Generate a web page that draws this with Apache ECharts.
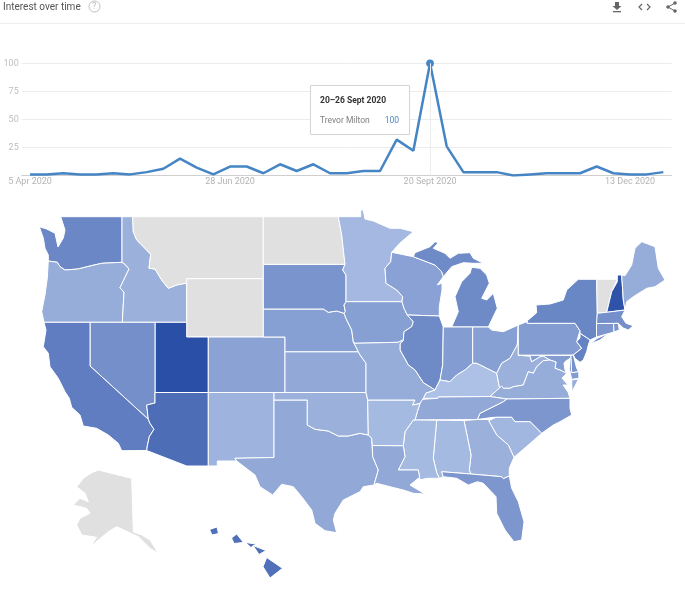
<!DOCTYPE html>
<html>
<head>
<meta charset="utf-8">
<title>Interest over time</title>
<style>
  html, body { margin: 0; padding: 0; background: #fff; }
  #chart { width: 685px; height: 606px; }
</style>
<script src="https://cdn.jsdelivr.net/npm/echarts@6/dist/echarts.min.js"></script>
</head>
<body>
<div id="chart"></div>
<script>
// Weekly interest
var weeks = [
  '5 Apr 2020', '12 Apr 2020', '19 Apr 2020', '26 Apr 2020', '3 May 2020', '10 May 2020', '17 May 2020',
  '24 May 2020', '31 May 2020', '7 Jun 2020', '14 Jun 2020', '21 Jun 2020', '28 Jun 2020', '5 Jul 2020',
  '12 Jul 2020', '19 Jul 2020', '26 Jul 2020', '2 Aug 2020', '9 Aug 2020', '16 Aug 2020', '23 Aug 2020',
  '30 Aug 2020', '6 Sept 2020', '13 Sept 2020', '20 Sept 2020', '27 Sept 2020', '4 Oct 2020', '11 Oct 2020',
  '18 Oct 2020', '25 Oct 2020', '1 Nov 2020', '8 Nov 2020', '15 Nov 2020', '22 Nov 2020', '29 Nov 2020',
  '6 Dec 2020', '13 Dec 2020', '20 Dec 2020', '27 Dec 2020'
];
var interest = [
  1, 1, 2, 1, 1, 2, 1, 3, 6, 15, 7, 1, 8, 8, 2, 10, 4, 10, 2, 2,
  4, 4, 32, 22, 100, 26, 3, 3, 3, 0, 1, 2, 2, 2, 8, 2, 1, 1, 3
];
var peakIndex = 24;
var seriesName = 'Trevor Milton';

// Interest by state. MT, WY, ND, VT and AK have no data.
var stateNames = [
  'UT', 'NH', 'AZ', 'HI', 'CA', 'WA', 'NV', 'IL', 'NY', 'NJ', 'MI', 'SD', 'NC', 'FL', 'PA', 'IN', 'MD', 'DE',
  'CT', 'RI', 'MA', 'OH', 'WI', 'IA', 'NE', 'CO', 'TX', 'KS', 'LA', 'TN', 'MO', 'OR', 'VA', 'ME', 'OK', 'ID',
  'GA', 'WV', 'NM', 'SC', 'MN', 'AR', 'MS', 'AL', 'KY'
];
var stateValues = [
  100, 97, 77, 75, 65, 57, 51, 55, 58, 61, 55, 47, 45, 45, 41, 41, 41, 48,
  45, 45, 51, 38, 37, 38, 38, 36, 31, 31, 31, 31, 28, 28, 28, 28, 25, 25,
  25, 25, 23, 20, 19, 18, 18, 18, 13
];

// State outlines, in the picture's own projection
var stateShapes = {
  WA: [[[60.7,216.7],[122,216.7],[122,262.3],[101.7,263.3],[90,266],[78,269],[65,270],[60,266.7],[57.3,262.3],[48.3,261],[48.3,255],[45,248.3],[43.3,238],[39.3,226.7],[46.7,229],[55,233.3],[58,247],[63.3,238],[65,230]]],
  OR: [[[48.3,261],[57.3,262.3],[60,266.7],[65,270],[78,269],[90,266],[101.7,263.3],[122,262.3],[125,264.3],[129,269],[120,287.7],[124,292.3],[122.3,322.3],[44,322.3],[41.7,311.7],[45,295],[47.3,278]]],
  ID: [[[122,216.7],[132.7,216.7],[133.3,231.7],[136.7,240],[145,248.3],[150.7,254.3],[149,268.3],[155,269],[161.7,280],[168.3,288.3],[176.7,285],[185,283.3],[186.7,284.3],[186.7,322.3],[122.3,322.3],[124,292.3],[120,287.7],[129,269],[125,264.3],[122,262.3]]],
  MT: [[[132.7,216.7],[263.3,216.7],[263.3,278.7],[186.7,278.7],[186.7,284.3],[185,283.3],[176.7,285],[168.3,288.3],[161.7,280],[155,269],[149,268.3],[150.7,254.3],[145,248.3],[136.7,240],[133.3,231.7]]],
  WY: [[[186.7,278.7],[263.3,278.7],[263.3,337],[186.7,337]]],
  UT: [[[155,322.3],[186.7,322.3],[186.7,337],[208.3,337],[208.3,392.5],[155,392.5]]],
  NV: [[[90,322.3],[155,322.3],[155,403],[146.7,405],[148.3,419.3],[90,366]]],
  CA: [[[44,322.3],[90,322.3],[90,366],[148.3,419.3],[150,423.3],[154,429.3],[149.3,436.7],[147.3,446],[146.7,450.5],[121.7,450.7],[118.3,443.3],[108.3,435],[96.7,428.3],[83.3,426],[80,415],[71.7,407.3],[69.3,398.3],[65,391.7],[58.3,378.3],[50,366.7],[48.3,353.3],[43.3,346.7],[46,330]]],
  AZ: [[[155,392.5],[208.3,392.5],[208.3,466],[186.7,466],[146.7,450.5],[147.3,446],[149.3,436.7],[154,429.3],[150,423.3],[148.3,419.3],[146.7,405],[155,403]]],
  CO: [[[208.3,337],[285,337],[285,392.5],[208.3,392.5]]],
  NM: [[[208.3,392.5],[274,392.5],[274,457.5],[235,458.3],[236.7,461],[217.3,461],[217.3,466],[208.3,466]]],
  TX: [[[274,400],[307.3,400],[307.3,425],[315,429.3],[328.3,431],[338.3,436],[348.3,436],[360,433.3],[368.3,435],[371.7,438.3],[372.7,456.7],[378.3,470],[374,485],[363.3,486.7],[360,491.7],[343.3,500],[335,513.3],[333.3,520],[336.7,532.7],[325,530.7],[315,523.3],[311.7,510],[301.7,496.7],[293.3,486.7],[281.7,484.3],[272.7,495],[260,486.7],[255,475],[236.7,461],[235,458.3],[274,457.5]]],
  OK: [[[274,392.5],[366,392.5],[367.7,400],[368.3,435],[360,433.3],[348.3,436],[338.3,436],[328.3,431],[315,429.3],[307.3,425],[307.3,400],[274,400]]],
  KS: [[[285,351.7],[358.3,351.7],[360,355],[366,363.3],[366,392.5],[285,392.5]]],
  NE: [[[263.3,309],[323.3,309],[328.3,312.3],[336.7,311],[344,313.3],[346.7,320],[351.7,330],[353.3,341.7],[358.3,351.7],[285,351.7],[285,337],[263.3,337]]],
  SD: [[[263.3,264.3],[345,264.3],[342.7,270],[346,275],[346,301.7],[344,305],[345.3,311.7],[344,313.3],[336.7,311],[328.3,312.3],[323.3,309],[263.3,309]]],
  ND: [[[263.3,216.7],[338.3,216.7],[341.7,235],[345,264.3],[263.3,264.3]]],
  MN: [[[338.3,216.7],[360.7,216.7],[360.7,210],[363.3,210],[365,219],[373.3,221],[390,228.3],[400,228.3],[413.3,231.7],[400,243],[391.7,252.3],[390.7,261.7],[385,268.3],[386,283.3],[396.7,290],[402.7,296.7],[402,301.7],[346,301.7],[346,275],[342.7,270],[345,264.3],[341.7,235]]],
  IA: [[[346,301.7],[402,301.7],[404,308.3],[407.3,315],[413.3,321.7],[411.7,326.7],[404,331.7],[403.3,340],[398.3,342.3],[355,343.3],[353.3,341.7],[351.7,330],[346.7,320],[344,313.3],[345.3,311.7],[344,305]]],
  WI: [[[391.7,252.3],[413.3,256.7],[435,265],[441.7,271.7],[443.3,276.7],[437.3,285],[442,283],[442,290],[439.3,306.7],[439.3,316],[407.3,315],[404,308.3],[402,301.7],[402.7,296.7],[396.7,290],[386,283.3],[385,268.3],[390.7,261.7]]],
  MI: [
    [[413.3,256.7],[415,252.7],[430,246.7],[435,241.7],[438.3,242.7],[433.3,248.3],[445,253.3],[450,258.3],[458.3,253.3],[470,252.7],[473.3,258.3],[483.3,263.3],[473.3,263.3],[463.3,262.7],[451.7,266.7],[443.3,276.7],[441.7,271.7],[435,265]],
    [[471.7,267.3],[480,268.3],[486.7,275],[489.3,283.3],[481.7,298.3],[486.7,300],[493.3,293.3],[497.3,308.3],[488.3,327],[451.7,327],[458.3,311.7],[455,296.7],[461.7,281.7],[470,273.3]]
  ],
  IL: [[[407.3,315],[439.3,316],[443.3,327],[442.7,365],[440,380],[435,390],[423.3,382.7],[415,370],[408.3,365],[400,350],[400,344],[403.3,340],[404,331.7],[411.7,326.7],[413.3,321.7]]],
  IN: [[[443.3,327],[472.7,327],[472.7,363.3],[465,370],[456.7,375],[450,381.7],[440,380],[442.7,365]]],
  OH: [[[472.7,327],[488.3,327],[491.7,330],[503.3,331.7],[518.3,325],[517.3,345],[510,358.3],[501.7,363.3],[496.7,373.3],[486.7,368.3],[476.7,363.3],[472.7,363.3]]],
  KY: [[[435,390],[440,380],[450,381.7],[456.7,375],[465,370],[472.7,363.3],[476.7,363.3],[486.7,368.3],[496.7,373.3],[499.3,386.7],[503.3,388.3],[501.7,386],[490,396.5],[438.3,397],[437.7,398.3],[423.3,398.3],[426,393]]],
  WV: [[[518.3,325],[518.3,355.3],[530,356],[531.7,361.7],[540,356.7],[543.3,356],[550,360],[543.3,360.7],[536.7,366.7],[533.3,373.3],[528.3,371.7],[523.3,385],[513.3,386.7],[510,388.3],[503.3,388.3],[499.3,386.7],[496.7,373.3],[501.7,363.3],[510,358.3],[517.3,345]]],
  PA: [[[518.3,325],[526.7,321.7],[527.3,323.3],[575,323.3],[580,330.7],[576.7,341.7],[581.7,348.3],[573.3,355],[518.3,355.3]]],
  NY: [
    [[527.3,323.3],[527.3,320.7],[536.7,312.7],[536,305],[550,304],[563.3,300],[566.7,290],[578.3,279.3],[596.7,279.3],[597.3,313.3],[596.5,337],[590,340],[580,333.3],[580,330.7],[575,323.3]],
    [[590,344],[597,338.5],[609,333],[600,340]]
  ],
  VT: [[[596.7,279.3],[617.3,279.3],[611.7,291.7],[606.7,312.3],[597.3,313.3]]],
  NH: [[[617.3,275],[621.7,275],[623.3,300],[625,310],[606.7,312.3],[611.7,291.7],[617.3,281.7]]],
  ME: [[[621.7,275],[625,275.7],[631.7,265],[635,248.3],[641.7,241.7],[655,246.7],[658.3,268.3],[665,280],[655,286.7],[646.7,288.3],[633.3,296.7],[626.7,301.7],[625,310],[623.3,300]]],
  MA: [[[597.3,313.3],[606.7,312.3],[625,310],[621.7,316.7],[626,323.3],[633.3,325.7],[628.3,330],[623.3,328],[618.3,323.3],[596.5,323.5]]],
  CT: [[[596.5,323.5],[613.5,323.5],[614,332],[596.5,337]]],
  RI: [[[613.5,323.5],[618.3,323.3],[619.3,330],[614,332]]],
  NJ: [[[580,333.3],[590,340],[588.3,345],[586.7,351.7],[583.3,360],[580,362.3],[575,358.3],[573.3,355],[581.7,348.3],[576.7,341.7],[580,338]]],
  DE: [[[570.7,355.5],[573.3,355],[576.7,368.3],[578.7,371.7],[571.7,372.7]]],
  MD: [[[530,356],[518.3,355.3],[570.7,355.5],[571.7,372.7],[578.7,371.7],[579,378.3],[571.7,379.3],[569.3,368.3],[570,358.3],[565,361.7],[564,363.3],[565,370],[566.7,373.3],[560,370],[555,368.3],[556,362],[550,360],[543.3,356],[540,356.7],[531.7,361.7]]],
  VA: [
    [[490,396.5],[501.7,386],[503.3,388.3],[510,388.3],[513.3,386.7],[523.3,385],[528.3,371.7],[533.3,373.3],[536.7,366.7],[543.3,360.7],[550,360],[556,362],[555,368.3],[560,370],[566.7,373.3],[562,378],[568,385],[563,385],[568,392],[570,398.3],[506.7,399]],
    [[571.7,380],[578.5,379],[572,392]]
  ],
  NC: [[[506.7,399],[570,398.3],[570,408.3],[571.7,415],[560,421.7],[553.3,425],[541.7,433.3],[530,421.7],[515,421.7],[511.7,417.3],[493.3,417.3],[477.3,419.5],[480,413.3],[490,408.3],[503.3,401.7]]],
  TN: [[[422.3,399.3],[423.3,398.3],[437.7,398.3],[438.3,397],[490,396.5],[506.7,399],[503.3,401.7],[490,408.3],[480,413.3],[477.3,419.5],[415,420],[417.3,411.7],[420,403.3]]],
  SC: [[[488.7,420.7],[496,417.3],[511.7,417.3],[515,421.7],[530,421.7],[541.7,433.3],[528.3,445],[514,457.3],[508.3,445],[496.7,435]]],
  GA: [[[464,420.5],[477.3,419.5],[490,419.5],[488.7,420.7],[496.7,435],[508.3,445],[514,457.3],[509.3,468.3],[509.3,476],[503.3,478.7],[501.7,476.7],[471,474],[469.3,470],[471,455],[467.3,436.7]]],
  AL: [[[436.7,420.2],[464,420.5],[467.3,436.7],[471,455],[469.3,470],[471,474],[441.7,471.7],[443.3,476.7],[439.3,478.3],[436.7,472.7],[433.3,458.3]]],
  MS: [[[415,420],[436.7,420.2],[433.3,458.3],[436.7,472.7],[439.3,478.3],[426.7,478.3],[420,480],[418.3,470],[398.3,470],[405,456.7],[403.3,445.7],[405,431.7],[413.3,420]]],
  LA: [[[372.3,445.5],[403.3,445.7],[405,456.7],[398.3,470],[418.3,470],[420,480],[418.3,478.3],[410,485],[425,494],[413.3,493.3],[403.3,490],[390,486.7],[376.7,483.3],[374,485],[378.3,470],[372.7,456.7]]],
  AR: [[[367.7,400],[415,400],[412.7,405],[420,403.3],[417.3,411.7],[415,420],[413.3,420],[405,431.7],[403.3,445.7],[372.3,445.5],[371.7,438.3],[368.3,435]]],
  MO: [[[355,343.3],[398.3,342.3],[403.3,340],[400,344],[400,350],[408.3,365],[415,370],[423.3,382.7],[435,390],[426,393],[423.3,398.3],[422.3,399.3],[420,403.3],[412.7,405],[415,400],[367.7,400],[366,392.5],[366,363.3],[360,355],[358.3,351.7],[353.3,341.7]]],
  FL: [[[441.7,471.7],[471,474],[501.7,476.7],[503.3,478.7],[509.3,476],[511.7,488.3],[518.3,501.7],[524,521.7],[521.7,540],[514,541.7],[505,530],[496.7,513.3],[496,496.7],[483.3,483.3],[477.3,481.7],[468.3,485],[456.7,478.3],[443.3,476.7]]],
  HI: [
    [[266.7,557.5],[282.5,568.3],[270,578],[263,566.7]],
    [[253,545.5],[266,550.5],[259,554.5]],
    [[245.5,542.5],[256,544],[251,547.5]],
    [[231.5,538],[236.7,534],[243.5,542.5],[234,543.5]],
    [[209.5,529.5],[217,527],[218.5,533.5],[212,535]]
  ],
  AK: [[[98.3,470],[131.7,478.3],[133.3,531.7],[141.7,535],[150,540],[158.3,553.3],[150,548.3],[138.3,536.7],[116.7,526.7],[108.3,531.7],[98.3,540],[88.3,548.3],[71.7,560],[90,546.7],[96.7,537.3],[81.7,535],[76.7,525],[80,518.3],[90,513.3],[86.7,508.3],[73.3,505],[80,498.3],[88.3,501.7],[85,493.3],[76.7,486.7],[83.3,478.3],[91.7,472.7]]]
};

var tickFont = 'Roboto, sans-serif';

function buildGeoJson() {
  var features = Object.keys(stateShapes).map(function(name) {
    return {
      type: 'Feature',
      properties: { name: name },
      geometry: {
        type: 'MultiPolygon',
        coordinates: stateShapes[name].map(function(ring) { return [ring]; })
      }
    };
  });
  return { type: 'FeatureCollection', features: features };
}

function tooltipHtml(index) {
  return '<div style="font:bold 8.5px/11px Roboto,sans-serif;color:#333;margin-bottom:9px;">20\u201326 Sept 2020</div>' +
    '<div style="font:8.5px/11px Roboto,sans-serif;color:#808080;display:flex;justify-content:space-between;">' +
    '<span>' + seriesName + '</span><span style="color:#4a88c7;">' + interest[index] + '</span></div>';
}

echarts.registerMap('usa', buildGeoJson());

var chart = echarts.init(document.getElementById('chart'));
var samePoint = function(p) { return p; };

chart.setOption({
  animation: false,
  textStyle: { fontFamily: tickFont },
  graphic: [
    { type: 'text', left: 3, top: 2, style: { text: 'Interest over time', fill: '#555', font: '10px Roboto, sans-serif' } },
    { type: 'circle', shape: { cx: 94.5, cy: 6.5, r: 5.5 }, style: { fill: 'none', stroke: '#bdbdbd', lineWidth: 1 } },
    { type: 'text', x: 92, y: 2, style: { text: '?', fill: '#bdbdbd', font: '9px Roboto, sans-serif' } },
    { type: 'line', shape: { x1: 0, y1: 23.5, x2: 685, y2: 23.5 }, style: { stroke: '#eeeeee', lineWidth: 1 } },
    // download, embed and share icons
    { type: 'polygon', shape: { points: [[615, 2], [619, 2], [619, 6], [621.5, 6], [617, 10], [612.5, 6], [615, 6]] }, style: { fill: '#666' } },
    { type: 'rect', shape: { x: 613, y: 11, width: 8, height: 1.3 }, style: { fill: '#666' } },
    { type: 'polyline', shape: { points: [[642, 4], [639, 7], [642, 10]] }, style: { fill: 'none', stroke: '#666', lineWidth: 1.2 } },
    { type: 'polyline', shape: { points: [[647, 4], [650, 7], [647, 10]] }, style: { fill: 'none', stroke: '#666', lineWidth: 1.2 } },
    { type: 'polyline', shape: { points: [[675, 3], [668, 7], [675, 11]] }, style: { fill: 'none', stroke: '#666', lineWidth: 1 } },
    { type: 'circle', shape: { cx: 675, cy: 3, r: 1.8 }, style: { fill: '#666' } },
    { type: 'circle', shape: { cx: 668, cy: 7, r: 1.8 }, style: { fill: '#666' } },
    { type: 'circle', shape: { cx: 675, cy: 11, r: 1.8 }, style: { fill: '#666' } }
  ],
  grid: { left: 21.7, right: 13.3, top: 63.3, height: 112.2 },
  tooltip: {
    trigger: 'axis',
    alwaysShowContent: true,
    transitionDuration: 0,
    position: [310, 85],
    formatter: function(params) { return tooltipHtml(params[0].dataIndex); },
    backgroundColor: '#fff',
    borderColor: '#d4d4d4',
    borderWidth: 1,
    padding: [9, 10, 8, 9],
    extraCssText: 'width:79px;box-sizing:content-box;box-shadow:0 0 1px rgba(0,0,0,.1);border-radius:1px;',
    axisPointer: { type: 'line', lineStyle: { color: '#ececec', width: 1, type: 'solid' } }
  },
  xAxis: {
    type: 'category',
    data: weeks,
    axisLine: { lineStyle: { color: '#cfcfcf', width: 1 } },
    axisTick: { show: false },
    axisLabel: { interval: 11, color: '#b4b4b4', fontSize: 9, margin: 2, hideOverlap: false },
    splitLine: { show: false }
  },
  yAxis: {
    type: 'value',
    min: 0,
    max: 100,
    interval: 25,
    axisLine: { show: false },
    axisTick: { show: false },
    axisLabel: {
      color: '#bdbdbd',
      fontSize: 9,
      margin: 3,
      formatter: function(v) { return v === 0 ? '' : v; }
    },
    splitLine: { lineStyle: { color: '#ececec', width: 1 } }
  },
  visualMap: {
    show: false,
    seriesIndex: 1,
    min: 0,
    max: 100,
    inRange: { color: ['#c0d1ee', '#2a4fa7'] }
  },
  series: [
    {
      name: seriesName,
      type: 'line',
      data: interest,
      smooth: false,
      showSymbol: true,
      symbol: 'circle',
      symbolSize: function(v, p) { return p.dataIndex === peakIndex ? 7 : 0; },
      lineStyle: { color: '#4585c5', width: 2.5 },
      itemStyle: { color: '#4585c5' },
      emphasis: { disabled: true }
    },
    {
      type: 'map',
      map: 'usa',
      projection: { project: samePoint, unproject: samePoint },
      boundingCoords: [[0, 0], [685, 606]],
      layoutCenter: [342.5, 303],
      layoutSize: 685,
      roam: false,
      silent: true,
      label: { show: false },
      emphasis: { disabled: true },
      select: { disabled: true },
      itemStyle: { areaColor: '#e0e0e0', borderColor: '#fff', borderWidth: 1 },
      data: stateNames.map(function(name, i) { return { name: name, value: stateValues[i] }; })
    }
  ]
});

chart.dispatchAction({ type: 'showTip', seriesIndex: 0, dataIndex: peakIndex });
</script>
</body>
</html>
